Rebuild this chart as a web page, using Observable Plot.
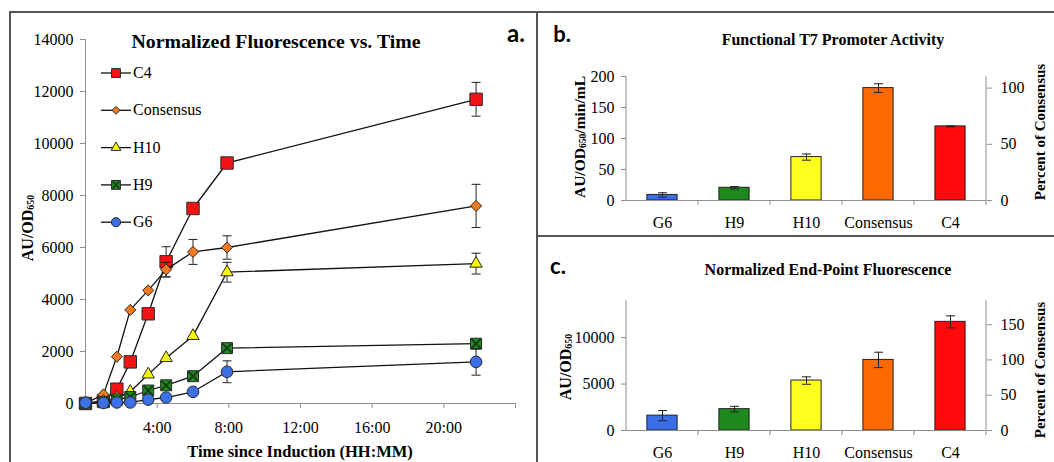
<!DOCTYPE html>
<html><head><meta charset="utf-8">
<script src="https://cdn.jsdelivr.net/npm/d3@7"></script>
<script src="https://cdn.jsdelivr.net/npm/@observablehq/plot@0.6"></script>
<style>
body{margin:0;background:#fff;}
#fig{position:relative;width:1054px;height:462px;overflow:hidden;background:#fff;font-family:"Liberation Serif","Times New Roman",serif;color:#000;}
.border{position:absolute;background:#555;}
.ttl{position:absolute;font-weight:bold;transform:translate(-50%,-50%);white-space:nowrap;}
.plab{position:absolute;font-family:Lato,"Liberation Sans",sans-serif;font-weight:bold;transform:translate(-50%,-50%);}
.vlab{position:absolute;font-weight:bold;white-space:nowrap;transform:translate(-50%,-50%) rotate(-90deg);}
.sub{font-size:0.62em;vertical-align:-0.15em;}
.leg{position:absolute;font-size:16px;white-space:nowrap;transform:translateY(-50%);}
</style></head><body><div id="fig"></div>
<script>
// ---------- DATA ----------
const timeHours = [0, 1, 1.75, 2.5, 3.5, 4.5, 6, 7.9, 21.8];
const seriesNames = ["C4", "Consensus", "H10", "H9", "G6"];
const c4Fluor   = [0, 100, 550, 1600, 3450, 5450, 7500, 9250, 11700];
const c4Err     = [0, 0, 0, 0, 0, 580, 0, 0, 650];
const consFluor = [0, 350, 1800, 3600, 4350, 5150, 5830, 6000, 7600];
const consErr   = [0, 0, 0, 0, 0, 280, 480, 450, 830];
const h10Fluor  = [0, 80, 200, 450, 1120, 1750, 2600, 5050, 5380];
const h10Err    = [0, 0, 0, 0, 0, 0, 0, 380, 400];
const h9Fluor   = [0, 50, 150, 250, 500, 700, 1050, 2130, 2300];
const h9Err     = [0, 0, 0, 0, 0, 0, 0, 0, 0];
const g6Fluor   = [30, 20, 40, 40, 150, 230, 450, 1220, 1600];
const g6Err     = [0, 0, 0, 0, 0, 0, 0, 420, 510];
const yTicksA = [0, 2000, 4000, 6000, 8000, 10000, 12000, 14000];
const xTickHours = [0, 4, 8, 12, 16, 20, 24];

const categories = ["G6", "H9", "H10", "Consensus", "C4"];
const barColors = ["#3a6de8", "#1e8a1e", "#ffff1f", "#ff6a00", "#ff0a0a"];
const rateValues = [9, 20.5, 70, 181.3, 119.5];
const rateErr = [3.5, 2, 5, 7, 0.8];
const rateTicks = [0, 50, 100, 150, 200];
const ratePctTicks = [0, 50, 100];
const endValues = [1600, 2300, 5380, 7600, 11700];
const endErr = [550, 300, 400, 830, 650];
const endTicks = [0, 5000, 10000];
const endPctTicks = [0, 50, 100, 150];

// ---------- HELPERS ----------
const ns = "http://www.w3.org/2000/svg";
const fig = document.getElementById("fig");
const axisGrey = "#8e8e8e";
const serif = "'Liberation Serif', 'Times New Roman', serif";
function place(el, left, top) { el.style.position = "absolute"; el.style.left = left + "px"; el.style.top = top + "px"; fig.appendChild(el); return el; }
function addDiv(cls, html, x, y, size, extra) {
  const d = document.createElement("div"); d.className = cls; d.innerHTML = html;
  d.style.left = x + "px"; d.style.top = y + "px"; d.style.fontSize = size + "px";
  if (extra) Object.assign(d.style, extra);
  fig.appendChild(d); return d;
}
const capSymbol = {draw(ctx, size) { const w = Math.sqrt(size / Math.PI); ctx.moveTo(-w, 0); ctx.lineTo(w, 0); }};
function errorMarks(rows, xKey) {
  const d = rows.filter(r => r.err > 0);
  return [
    Plot.ruleX(d, {x: xKey, y1: r => r.v - r.err, y2: r => r.v + r.err, stroke: "#222", strokeWidth: 1}),
    Plot.dot(d, {x: xKey, y: r => r.v + r.err, symbol: capSymbol, r: 4.5, fill: "none", stroke: "#222", strokeWidth: 1}),
    Plot.dot(d, {x: xKey, y: r => r.v - r.err, symbol: capSymbol, r: 4.5, fill: "none", stroke: "#222", strokeWidth: 1})
  ];
}
function barFrame(n) {
  return (index, scales, values, dims) => {
    const g = document.createElementNS(ns, "g");
    const x0 = dims.marginLeft, x1 = dims.width - dims.marginRight;
    const y0 = dims.marginTop, y1 = dims.height - dims.marginBottom;
    const step = (x1 - x0) / n;
    const segs = [[x0, y0, x0, y1], [x1, y0, x1, y1]];
    for (let i = 1; i <= n; i++) segs.push([x0 + i * step, y1, x0 + i * step, y1 + 5]);
    for (const [a, b, c, e] of segs) {
      const l = document.createElementNS(ns, "line");
      l.setAttribute("x1", a); l.setAttribute("y1", b); l.setAttribute("x2", c); l.setAttribute("y2", e);
      l.setAttribute("stroke", axisGrey); g.appendChild(l);
    }
    return g;
  };
}

// ---------- PANEL A ----------
const seriesDefs = [
  {name: "C4", values: c4Fluor, errors: c4Err, color: "#f01414", symbol: "square", r: 7, lr: 5},
  {name: "Consensus", values: consFluor, errors: consErr, color: "#f47a20", symbol: "diamond2", r: 5, lr: 3.6},
  {name: "H10", values: h10Fluor, errors: h10Err, color: "#f5f50a", symbol: "triangle", r: 4.6, lr: 3.6},
  {name: "H9", values: h9Fluor, errors: h9Err, color: "#1f8b1f", symbol: "square", r: 6.2, lr: 5, cross: true},
  {name: "G6", values: g6Fluor, errors: g6Err, color: "#3c70e6", symbol: "circle", r: 5.8, lr: 4.6}
];
const seriesMarks = [];
for (const s of seriesDefs) {
  const rows = s.values.map((v, i) => ({series: s.name, t: timeHours[i], v, err: s.errors[i]}));
  seriesMarks.push(...errorMarks(rows, "t"));
  seriesMarks.push(Plot.line(rows, {x: "t", y: "v", stroke: "#111", strokeWidth: 1.3}));
  seriesMarks.push(Plot.dot(rows, {x: "t", y: "v", symbol: s.symbol, r: s.r, fill: s.color, stroke: "#2a2a2a", strokeWidth: 1}));
  if (s.cross) seriesMarks.push(Plot.dot(rows, {x: "t", y: "v", symbol: "times", r: 4.2, stroke: "#183818", strokeWidth: 1.8}));
}
const plotA = Plot.plot({
  width: 537, height: 462,
  marginLeft: 85, marginRight: 22, marginTop: 39, marginBottom: 59,
  x: {domain: [0, 24], label: null},
  y: {domain: [0, 14000], label: null},
  style: {fontFamily: serif, fontSize: "16px", color: "#000", background: "transparent", overflow: "visible"},
  marks: [
    Plot.ruleX([0], {stroke: axisGrey}),
    Plot.ruleY([0], {stroke: axisGrey}),
    Plot.axisY({ticks: yTicksA, tickSize: 5, tickPadding: 7, stroke: axisGrey, fill: "#000", tickFormat: d => String(d), label: null}),
    Plot.axisX({ticks: xTickHours, tickSize: 5, tickPadding: 13, stroke: axisGrey, fill: "#000", tickFormat: d => (d > 0 && d < 24) ? d + ":00" : "", label: null}),
    ...seriesMarks
  ]
});
place(plotA, 0, 0);

// legend for panel A
const d3Sym = {square: d3.symbolSquare, diamond2: d3.symbolDiamond2, triangle: d3.symbolTriangle, circle: d3.symbolCircle, times: d3.symbolTimes};
const legTop = 73, legStep = 37.3, legX0 = 101, legX1 = 131;
const legSvg = d3.create("svg").attr("width", 140).attr("height", 240).style("position", "absolute").style("left", "0px").style("top", "0px");
seriesDefs.forEach((s, i) => {
  const y = legTop + i * legStep;
  legSvg.append("line").attr("x1", legX0).attr("x2", legX1).attr("y1", y).attr("y2", y).attr("stroke", "#111").attr("stroke-width", 1.3);
  legSvg.append("path").attr("transform", `translate(${(legX0 + legX1) / 2},${y})`)
    .attr("d", d3.symbol(d3Sym[s.symbol], Math.PI * s.lr * s.lr)()).attr("fill", s.color).attr("stroke", "#2a2a2a");
  if (s.cross) legSvg.append("path").attr("transform", `translate(${(legX0 + legX1) / 2},${y})`)
    .attr("d", d3.symbol(d3.symbolTimes, Math.PI * 3.2 * 3.2)()).attr("fill", "none").attr("stroke", "#183818").attr("stroke-width", 1.6);
  addDiv("leg", s.name, legX1 + 2, y, 16);
});
fig.appendChild(legSvg.node());

addDiv("ttl", "Normalized Fluorescence vs. Time", 276, 41, 19.8);
addDiv("plab", "a.", 516, 32, 24);
addDiv("vlab", "AU/OD<span class='sub'>650</span>", 28, 228, 16);
addDiv("ttl", "Time since Induction (HH:MM)", 300, 452, 16.5);

// ---------- PANEL B ----------
const consensusRate = rateValues[categories.indexOf("Consensus")];
const rateRows = categories.map((c, i) => ({cat: c, v: rateValues[i], err: rateErr[i], color: barColors[i]}));
const plotB = Plot.plot({
  width: 514, height: 236,
  marginLeft: 86, marginRight: 68, marginTop: 76, marginBottom: 36,
  x: {domain: categories, paddingInner: 0.58, paddingOuter: 0.29, round: false, label: null},
  y: {domain: [0, 200], label: null},
  color: {type: "identity"},
  style: {fontFamily: serif, fontSize: "16px", color: "#000", background: "transparent", overflow: "visible"},
  marks: [
    Plot.barY(rateRows, {x: "cat", y: "v", fill: "color", stroke: "#222", strokeWidth: 1}),
    ...errorMarks(rateRows, "cat"),
    Plot.ruleY([0], {stroke: axisGrey}),
    barFrame(categories.length),
    Plot.axisY({ticks: rateTicks, tickSize: 5, tickPadding: 7, stroke: axisGrey, fill: "#000", tickFormat: d => String(d), label: null}),
    Plot.axisY({anchor: "right", ticks: ratePctTicks.map(p => p / 100 * consensusRate), tickFormat: d => String(Math.round(d / consensusRate * 100)), tickSize: 5, tickPadding: 9, stroke: axisGrey, fill: "#000", label: null}),
    Plot.axisX({tickSize: 0, tickPadding: 16, fill: "#000", label: null})
  ]
});
place(plotB, 540, 0);
addDiv("ttl", "Functional T7 Promoter Activity", 833, 40, 16);
addDiv("plab", "b.", 562, 33, 22);
addDiv("vlab", "AU/OD<span class='sub'>650</span>/min/mL", 580, 137, 15.5);
addDiv("vlab", "Percent of Consensus", 1040, 132, 15);

// ---------- PANEL C ----------
const consensusEnd = endValues[categories.indexOf("Consensus")];
const endRows = categories.map((c, i) => ({cat: c, v: endValues[i], err: endErr[i], color: barColors[i]}));
const plotC = Plot.plot({
  width: 514, height: 226,
  marginLeft: 86, marginRight: 68, marginTop: 64, marginBottom: 32,
  x: {domain: categories, paddingInner: 0.58, paddingOuter: 0.29, round: false, label: null},
  y: {domain: [0, 14000], label: null},
  color: {type: "identity"},
  style: {fontFamily: serif, fontSize: "16px", color: "#000", background: "transparent", overflow: "visible"},
  marks: [
    Plot.barY(endRows, {x: "cat", y: "v", fill: "color", stroke: "#222", strokeWidth: 1}),
    ...errorMarks(endRows, "cat"),
    Plot.ruleY([0], {stroke: axisGrey}),
    barFrame(categories.length),
    Plot.axisY({ticks: endTicks, tickSize: 5, tickPadding: 7, stroke: axisGrey, fill: "#000", tickFormat: d => String(d), label: null}),
    Plot.axisY({anchor: "right", ticks: endPctTicks.map(p => p / 100 * consensusEnd), tickFormat: d => String(Math.round(d / consensusEnd * 100)), tickSize: 5, tickPadding: 9, stroke: axisGrey, fill: "#000", label: null}),
    Plot.axisX({tickSize: 0, tickPadding: 16, fill: "#000", label: null})
  ]
});
place(plotC, 540, 236);
addDiv("ttl", "Normalized End-Point Fluorescence", 828, 270, 16);
addDiv("plab", "c.", 558, 265, 22);
addDiv("vlab", "AU/OD<span class='sub'>650</span>", 566, 367, 16);
addDiv("vlab", "Percent of Consensus", 1040, 370, 15);

// ---------- PANEL BORDERS ----------
function line(l, t, w, h) { const d = document.createElement("div"); d.className = "border"; d.style.left = l + "px"; d.style.top = t + "px"; d.style.width = w + "px"; d.style.height = h + "px"; fig.appendChild(d); }
line(9, 11, 1045, 2);
line(9, 11, 2, 451);
line(536, 11, 2, 451);
line(536, 235, 518, 2);
</script>
</body></html>
